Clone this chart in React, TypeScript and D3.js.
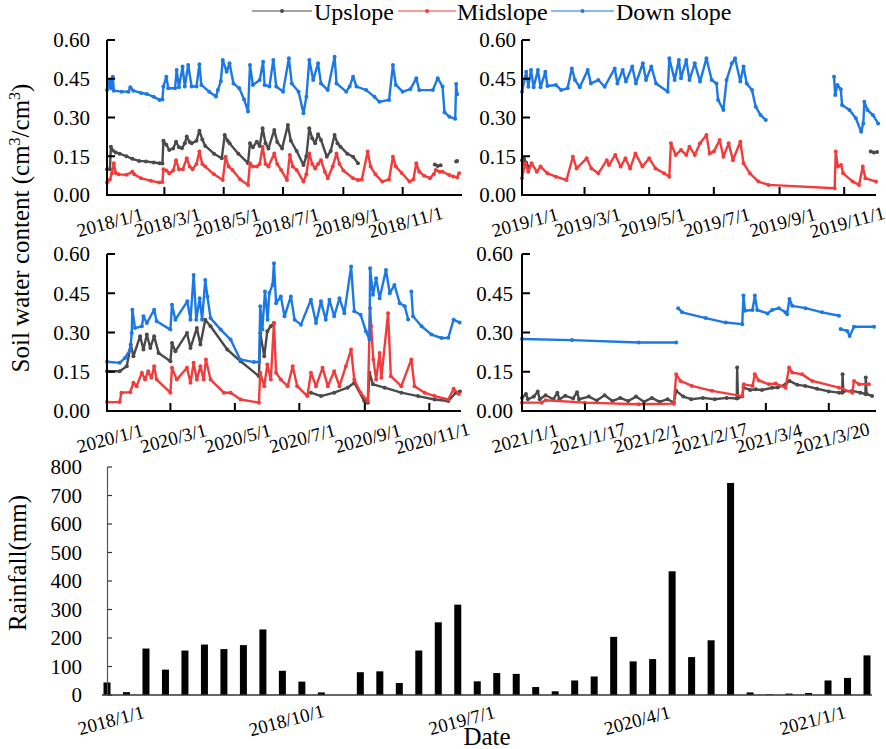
import React from "react";
import * as d3 from "d3";

const FONT = "Liberation Serif";
const GRAY = "#4a4a4a";
const RED = "#f43b3b";
const BLUE = "#1b78e6";

// [days since panel start, soil water content]; null breaks the line
type Pt = [number, number] | null;

const seriesNames = ["Upslope", "Midslope", "Down slope"];
const seriesColors = [GRAY, RED, BLUE];

const up2018: Pt[] = [
  [0, 0.1], [3, 0.1], [4, 0.187], [6, 0.172], [9, 0.165], [13, 0.16], [20, 0.15], [26, 0.14], [33, 0.132],
  [40, 0.13], [48, 0.126], [54, 0.123], [57, 0.122], [58, 0.21], [61, 0.195], [64, 0.174], [68, 0.18],
  [71, 0.206], [74, 0.185], [77, 0.181], [80, 0.2], [82, 0.226], [85, 0.205], [87, 0.2], [92, 0.21],
  [95, 0.249], [98, 0.215], [101, 0.19], [110, 0.16], [118, 0.142], [121, 0.232], [124, 0.21], [126, 0.2],
  [135, 0.16], [145, 0.123], [147, 0.2], [150, 0.185], [154, 0.206], [157, 0.19], [160, 0.258], [163, 0.2],
  [166, 0.18], [172, 0.252], [175, 0.205], [180, 0.18], [186, 0.271], [189, 0.21], [195, 0.17], [202, 0.116],
  [205, 0.15], [208, 0.258], [211, 0.22], [214, 0.2], [217, 0.235], [220, 0.213], [226, 0.148], [230, 0.17],
  [234, 0.232], [237, 0.2], [240, 0.187], [247, 0.16], [253, 0.148], [258, 0.123], null,
  [337, 0.118], [340, 0.112], [343, 0.115], null, [359, 0.13], [360, 0.132],
];
const mid2018: Pt[] = [
  [0, 0.048], [3, 0.06], [5, 0.084], [7, 0.123], [9, 0.085], [12, 0.08], [20, 0.078], [26, 0.09], [28, 0.08],
  [35, 0.065], [45, 0.055], [54, 0.048], [57, 0.05], [58, 0.1], [61, 0.095], [64, 0.084], [68, 0.095],
  [71, 0.135], [74, 0.1], [78, 0.1], [82, 0.142], [85, 0.11], [88, 0.1], [92, 0.12], [95, 0.168], [98, 0.12],
  [101, 0.11], [110, 0.08], [119, 0.058], [122, 0.148], [125, 0.11], [129, 0.097], [137, 0.06], [145, 0.039],
  [147, 0.123], [150, 0.11], [154, 0.11], [157, 0.12], [160, 0.187], [163, 0.12], [166, 0.11], [172, 0.161],
  [175, 0.12], [179, 0.097], [185, 0.058], [188, 0.155], [191, 0.11], [195, 0.097], [202, 0.052], [205, 0.08],
  [208, 0.161], [211, 0.12], [214, 0.103], [217, 0.12], [220, 0.135], [224, 0.09], [227, 0.065], [232, 0.11],
  [236, 0.161], [239, 0.12], [243, 0.095], [253, 0.065], [258, 0.058], [262, 0.06], [268, 0.168], [271, 0.11],
  [276, 0.08], [283, 0.052], [290, 0.06], [294, 0.148], [297, 0.11], [303, 0.085], [311, 0.052], [315, 0.06],
  [318, 0.123], [321, 0.09], [326, 0.075], [332, 0.065], [336, 0.08], [338, 0.097], [342, 0.09], [345, 0.09],
  [352, 0.077], [356, 0.072], [360, 0.068], [362, 0.084],
];
const down2018: Pt[] = [
  [0, 0.406], [3, 0.445], [4, 0.413], [6, 0.458], [7, 0.404], [15, 0.4], [22, 0.4], [24, 0.417], [27, 0.404],
  [35, 0.395], [41, 0.391], [48, 0.38], [54, 0.368], [57, 0.37], [58, 0.42], [61, 0.458], [63, 0.413],
  [70, 0.413], [71.6, 0.484], [74, 0.417], [77.7, 0.497], [80, 0.42], [83.5, 0.503], [87, 0.42], [92, 0.42],
  [95, 0.506], [97, 0.426], [105, 0.4], [112, 0.381], [114, 0.406], [117, 0.44], [119, 0.523], [123, 0.477],
  [126, 0.51], [130, 0.432], [136, 0.413], [141, 0.37], [145, 0.323], [147, 0.503], [150, 0.426], [157, 0.445],
  [160.5, 0.516], [162, 0.426], [167, 0.42], [171, 0.523], [174, 0.42], [181, 0.4], [187, 0.529], [190, 0.432],
  [197, 0.4], [202, 0.316], [205, 0.38], [208, 0.523], [212, 0.445], [217, 0.51], [220, 0.432], [227, 0.406],
  [234, 0.535], [236, 0.432], [246, 0.4], [249.5, 0.42], [253, 0.458], [256.5, 0.42], [266.5, 0.406],
  [275, 0.38], [280, 0.361], [290, 0.368], [294, 0.503], [297, 0.426], [304, 0.4], [312, 0.41], [318, 0.452],
  [321, 0.406], [335, 0.406], [340, 0.452], [345, 0.42], [347, 0.32], [352, 0.303], [358, 0.295], [359, 0.43],
  [360, 0.39],
];

const up2019: Pt[] = [
  [0, 0.135], [1, 0.12], [2, 0.14], [4, 0.125], [6, 0.11], null, [329, 0.168], [332, 0.165], [335, 0.166],
];
const mid2019: Pt[] = [
  [0, 0.065], [3, 0.123], [6, 0.09], [9, 0.123], [14, 0.09], [17.5, 0.11], [24, 0.084], [32, 0.071], [42, 0.058],
  [48, 0.148], [51.5, 0.103], [61, 0.142], [65.5, 0.103], [72, 0.084], [80, 0.135], [82, 0.116], [88, 0.155],
  [93, 0.11], [97.6, 0.142], [102, 0.103], [107, 0.161], [113.6, 0.11], [120, 0.142], [126, 0.103], [134, 0.084],
  [139, 0.071], [140.5, 0.2], [145, 0.155], [150, 0.174], [155, 0.155], [158, 0.187], [163, 0.155], [168, 0.2],
  [174, 0.232], [177, 0.161], [181, 0.168], [186.5, 0.213], [190, 0.148], [195, 0.2], [199, 0.135], [206, 0.206],
  [209, 0.123], [215, 0.084], [223, 0.052], [232.5, 0.039], [295, 0.026], [296, 0.168], [298, 0.11],
  [301, 0.116], [303, 0.084], [312, 0.052], [318, 0.039], [321.5, 0.11], [324, 0.065], [334, 0.052],
];
const down2019: Pt[] = [
  [0, 0.4], [4, 0.477], [6, 0.419], [8.5, 0.484], [11, 0.417], [15, 0.484], [17.5, 0.417], [22, 0.477],
  [24, 0.422], [32, 0.426], [37, 0.406], [43, 0.413], [47, 0.49], [50, 0.445], [54.5, 0.417], [62, 0.484],
  [65, 0.432], [72, 0.445], [78, 0.419], [87.5, 0.49], [90, 0.432], [95, 0.484], [98, 0.439], [104, 0.497],
  [107.5, 0.432], [114, 0.51], [117, 0.445], [122, 0.497], [126.5, 0.432], [137.5, 0.4], [139, 0.529],
  [144, 0.445], [148, 0.523], [150, 0.452], [155, 0.523], [158, 0.445], [163, 0.51], [168, 0.439],
  [174, 0.529], [179, 0.445], [183.5, 0.432], [185, 0.368], [190, 0.329], [193, 0.445], [198, 0.51],
  [201, 0.529], [206, 0.439], [209, 0.497], [212, 0.432], [217, 0.406], [220.5, 0.342], [225, 0.31],
  [230, 0.29], null, [294.4, 0.458], [295.5, 0.387], [297.6, 0.426], [300.8, 0.409], [302, 0.348],
  [309, 0.329], [315, 0.297], [320, 0.245], [322, 0.277], [323, 0.361], [326, 0.329], [331, 0.31], [336, 0.277],
];

const up2020: Pt[] = [
  [0, 0.152], [12, 0.152], [18.7, 0.171], [22.5, 0.254], [25, 0.209], [31.3, 0.286], [34.5, 0.235],
  [37.7, 0.292], [41, 0.241], [44.6, 0.286], [48.8, 0.222], [60, 0.19], [61.5, 0.26], [64.7, 0.228],
  [75.7, 0.298], [79, 0.241], [85, 0.317], [88.4, 0.254], [93, 0.349], [98, 0.324], [113.8, 0.235],
  [126.4, 0.19], [143.8, 0.133], [145, 0.298], [148.8, 0.209], [151.7, 0.305], [155, 0.324], [158, 0.336], null,
  [193, 0.07], [202.5, 0.057], [215, 0.07], [227.7, 0.089], [234, 0.108], [243.5, 0.038], [246.8, 0.032],
  [248.4, 0.146], [251.7, 0.102], [262.7, 0.089], [278.5, 0.07], [294.3, 0.057], [310, 0.044], [323, 0.038],
  [330, 0.07], [334, 0.075],
];
const mid2020: Pt[] = [
  [0, 0.034], [12, 0.034], [13.6, 0.07], [22, 0.072], [25, 0.108], [28, 0.095], [33, 0.146], [36, 0.12],
  [39, 0.152], [42, 0.127], [44.6, 0.171], [47, 0.12], [60, 0.07], [61.5, 0.165], [66, 0.12], [75.7, 0.165],
  [79, 0.108], [82, 0.184], [85, 0.12], [88.4, 0.171], [91.5, 0.12], [93.6, 0.197], [98, 0.12], [110.6, 0.07],
  [117, 0.07], [126.4, 0.044], [143.8, 0.032], [145, 0.146], [148.8, 0.095], [151.7, 0.178], [155, 0.12],
  [158, 0.336], [160, 0.146], [164.5, 0.12], [171, 0.095], [175.7, 0.171], [180, 0.095], [189.6, 0.057],
  [193, 0.146], [197.8, 0.095], [204, 0.165], [209, 0.095], [215, 0.152], [220, 0.095], [226, 0.171],
  [231, 0.235], [234, 0.12], [240, 0.07], [246.8, 0.038], [249, 0.393], [250, 0.324], [252, 0.197],
  [254.7, 0.12], [258, 0.222], [259.6, 0.127], [266, 0.374], [268.6, 0.133], [278.5, 0.095], [288, 0.197],
  [291, 0.095], [300.6, 0.07], [310, 0.057], [323, 0.044], [328, 0.085], [333, 0.065],
];
const down2020: Pt[] = [
  [0, 0.188], [12, 0.184], [17, 0.203], [22, 0.235], [23.4, 0.298], [24, 0.387], [26.5, 0.317], [33, 0.324],
  [34.5, 0.362], [37.7, 0.336], [44.6, 0.387], [47, 0.343], [60, 0.311], [61.5, 0.406], [64.7, 0.349],
  [76, 0.419], [79, 0.349], [82, 0.52], [84.5, 0.349], [87.7, 0.431], [90, 0.349], [93, 0.501], [95, 0.438],
  [98, 0.355], [107.6, 0.311], [117, 0.273], [126, 0.197], [139, 0.187], [144, 0.187], [145, 0.4],
  [147, 0.311], [149.5, 0.457], [152, 0.349], [153.6, 0.451], [156.7, 0.482], [158, 0.565], [160, 0.412],
  [164.5, 0.438], [168, 0.362], [174, 0.438], [177.5, 0.349], [183.5, 0.33], [193, 0.425], [197.8, 0.336],
  [202.5, 0.419], [207, 0.349], [210.5, 0.425], [215, 0.362], [220, 0.431], [224.6, 0.374], [231, 0.552],
  [234, 0.381], [240, 0.368], [245, 0.305], [248.4, 0.273], [249, 0.546], [251.7, 0.444], [254.7, 0.507],
  [258, 0.431], [264, 0.539], [267.6, 0.45], [272, 0.482], [277, 0.412], [281.8, 0.4], [285, 0.35], null,
  [288, 0.457], [289.6, 0.362], [297.7, 0.324], [307, 0.292], [316.6, 0.279], [323, 0.28], [328, 0.349],
  [333.7, 0.338],
];

const up2021: Pt[] = [
  [0, 0.05], [1, 0.065], [1.5, 0.045], [3, 0.055], [4, 0.075], [4.5, 0.045], [6, 0.06], [8, 0.045], [9, 0.07],
  [9.5, 0.045], [11, 0.058], [13, 0.048], [14, 0.072], [14.5, 0.045], [17, 0.055], [19, 0.04], [21, 0.06],
  [23, 0.038], [25, 0.05], [27, 0.038], [29, 0.055], [31, 0.035], [33, 0.05], [35, 0.035], [37, 0.045],
  [38.6, 0.032], [39.2, 0.077], [41, 0.055], [43, 0.045], [46, 0.05], [49, 0.045], [52, 0.05], [54.6, 0.048],
  [54.7, 0.166], [54.9, 0.05], [56, 0.055], [56.3, 0.09], [58, 0.08], [59.4, 0.083], [61, 0.08], [63.6, 0.089],
  [65, 0.09], [67, 0.102], [68, 0.115], [70, 0.1], [72, 0.096], [75, 0.085], [78, 0.075], [80.6, 0.07],
  [81.4, 0.07], [81.5, 0.14], [81.7, 0.075], [84, 0.077], [86, 0.07], [87.3, 0.065], [87.4, 0.128],
  [87.6, 0.065], [89, 0.057],
];
const mid2021: Pt[] = [
  [0, 0.032], [5, 0.032], [6, 0.041], [16, 0.032], [29.7, 0.026], [38.6, 0.028], [39.2, 0.14], [40.3, 0.115],
  [43.2, 0.096], [48.3, 0.077], [56, 0.057], [56.4, 0.102], [58.6, 0.096], [59.2, 0.14], [60.2, 0.117],
  [62.8, 0.102], [64.5, 0.105], [67, 0.089], [67.9, 0.166], [68.7, 0.147], [71.2, 0.14], [73.8, 0.115],
  [80.6, 0.089], [84, 0.07], [84.4, 0.115], [85.7, 0.102], [88.2, 0.102],
];
const down2021: Pt[] = [
  [0, 0.275], [12.7, 0.271], [29.7, 0.262], [39.2, 0.262], null, [39.7, 0.393], [40.7, 0.377], [46.7, 0.355],
  [51.8, 0.338], [56, 0.332], [56.3, 0.441], [56.7, 0.383], [58.6, 0.386], [59.2, 0.441], [59.8, 0.386],
  [62.4, 0.373], [63.6, 0.386], [65.3, 0.393], [67, 0.377], [67.4, 0.37], [68, 0.428], [68.7, 0.402],
  [72.1, 0.393], [76.3, 0.377], [80.6, 0.364], null, [81, 0.313], [82.7, 0.306], [83.3, 0.287], [84.4, 0.322],
  [89.5, 0.322],
];

const ticks2018 = ["2018/1/1", "2018/3/1", "2018/5/1", "2018/7/1", "2018/9/1", "2018/11/1"];
const ticks2019 = ["2019/1/1", "2019/3/1", "2019/5/1", "2019/7/1", "2019/9/1", "2019/11/1"];
const ticks2020 = ["2020/1/1", "2020/3/1", "2020/5/1", "2020/7/1", "2020/9/1", "2020/11/1"];
const ticks2021 = ["2021/1/1", "2021/1/17", "2021/2/1", "2021/2/17", "2021/3/4", "2021/3/20"];
const swcTicks = [0, 0.15, 0.3, 0.45, 0.6];

// monthly rainfall, 2018/1 .. 2021/4
const rainfall = [
  44, 10, 163, 89, 156, 177, 161, 175, 230, 85, 47, 9, 0, 80, 83, 42, 156, 255, 317, 48,
  77, 74, 28, 13, 51, 65, 204, 118, 126, 434, 133, 192, 744, 9, 2, 5, 7, 51, 60, 139,
];
const rainTicks = [0, 100, 200, 300, 400, 500, 600, 700, 800];
const rainDateLabels = ["2018/1/1", "2018/10/1", "2019/7/1", "2020/4/1", "2021/1/1"];

const parse = d3.timeParse("%Y/%m/%d");
const DAY = 864e5;

const panels = [
  { start: "2018/1/1", end: "2019/1/1", left: 107, right: 462, top: 40, bottom: 195, gap: 17, ticks: ticks2018, data: [up2018, mid2018, down2018] },
  { start: "2019/1/1", end: "2019/12/1", left: 522, right: 876, top: 40, bottom: 195, gap: 6, ticks: ticks2019, data: [up2019, mid2019, down2019] },
  { start: "2020/1/1", end: "2020/12/1", left: 107, right: 461, top: 254, bottom: 411, gap: 17, ticks: ticks2020, data: [up2020, mid2020, down2020] },
  { start: "2021/1/1", end: "2021/4/1", left: 522, right: 876, top: 254, bottom: 411, gap: 9, ticks: ticks2021, data: [up2021, mid2021, down2021] },
];

type PanelCfg = (typeof panels)[number];

// every text gets the font explicitly
const T = (props: React.SVGProps<SVGTextElement>) => (
  <text {...props} style={{ fontFamily: FONT }} fill="#000" />
);

const Panel = ({ p }: { p: PanelCfg }) => {
  const start = parse(p.start)!;
  const x = d3.scaleTime().domain([start, parse(p.end)!]).range([p.left, p.right]);
  const y = d3.scaleLinear().domain([0, 0.6]).range([p.bottom, p.top]);
  const px = (d: number) => x(new Date(+start + d * DAY));
  const line = d3
    .line<Pt>()
    .defined((d) => d !== null)
    .x((d) => px(d![0]))
    .y((d) => y(d![1]));

  return (
    <g>
      {p.data.map((s, i) => (
        <g key={i}>
          <path d={line(s) || ""} fill="none" stroke={seriesColors[i]} strokeWidth={2.4} strokeLinejoin="round" />
          {s.filter((d) => d !== null).map((d, j) => (
            <circle key={j} cx={px(d![0])} cy={y(d![1])} r={2} fill={seriesColors[i]} />
          ))}
        </g>
      ))}
      <line x1={p.left} x2={p.right} y1={p.bottom} y2={p.bottom} stroke="#000" strokeWidth={2} />
      <line x1={p.left} x2={p.left} y1={p.bottom + 1} y2={p.top} stroke="#000" strokeWidth={2} />
      {swcTicks.map((t) => (
        <g key={t}>
          <line x1={p.left} x2={p.left + 8} y1={y(t)} y2={y(t)} stroke="#000" strokeWidth={2} />
          <T x={p.left - p.gap} y={y(t)} dy="0.35em" textAnchor="end" fontSize={21}>
            {t.toFixed(2)}
          </T>
        </g>
      ))}
      {p.ticks.map((t) => {
        const tx = x(parse(t)!);
        return (
          <g key={t}>
            <line x1={tx} x2={tx} y1={p.bottom} y2={p.bottom - 8} stroke="#000" strokeWidth={2} />
            <T
              transform={`translate(${tx + 3},${p.bottom + 27}) rotate(-15)`}
              dy="0.35em"
              textAnchor="middle"
              fontSize={19}
            >
              {t}
            </T>
          </g>
        );
      })}
    </g>
  );
};

const months = d3.timeMonth.range(new Date(2018, 0, 1), new Date(2021, 4, 1));
const fmtMonth = d3.timeFormat("%Y/%-m/%-d");
const monthLabels = months.map((m) => fmtMonth(m));

const RainChart = () => {
  const x = d3.scalePoint<string>().domain(monthLabels).range([107, 867]);
  const y = d3.scaleLinear().domain([0, 800]).range([695, 467]);
  const bw = 7;
  return (
    <g>
      {rainfall.map((v, i) => (
        <rect key={i} x={x(monthLabels[i])! - bw / 2} y={y(v)} width={bw} height={y(0) - y(v)} fill="#000" />
      ))}
      <line x1={102} x2={872} y1={y(0)} y2={y(0)} stroke="#333" strokeWidth={1.5} />
      <line x1={107.5} x2={107.5} y1={y(0)} y2={y(800)} stroke="#555" strokeWidth={1.2} />
      {rainTicks.map((t) => (
        <g key={t}>
          <line x1={107.5} x2={112} y1={y(t)} y2={y(t)} stroke="#333" strokeWidth={1.2} />
          <T x={82} y={y(t)} dy="0.35em" textAnchor="end" fontSize={21}>
            {t}
          </T>
        </g>
      ))}
      {rainDateLabels.map((t) => {
        const tx = x(t)!;
        return (
          <T
            key={t}
            transform={`translate(${tx + 4},${y(0) + 25}) rotate(-15)`}
            dy="0.35em"
            textAnchor="middle"
            fontSize={19}
          >
            {t}
          </T>
        );
      })}
      <T x={487} y={745} textAnchor="middle" fontSize={25}>
        Date
      </T>
      <T transform="translate(26,563) rotate(-90)" textAnchor="middle" fontSize={25}>
        Rainfall(mm)
      </T>
    </g>
  );
};

const legendLines = [
  { x1: 252, x2: 312, tx: 314 },
  { x1: 398, x2: 456, tx: 457 },
  { x1: 551, x2: 614, tx: 616 },
];

const App = () => (
  <svg width={886} height={749} style={{ position: "absolute", left: 0, top: 0, background: "#fff" }}>
    {legendLines.map((l, i) => (
      <g key={i}>
        <line x1={l.x1} x2={l.x2} y1={11} y2={11} stroke={seriesColors[i]} strokeWidth={1.2} />
        <circle cx={(l.x1 + l.x2) / 2} cy={11} r={2} fill={seriesColors[i]} />
        <T x={l.tx} y={20} fontSize={24}>
          {seriesNames[i]}
        </T>
      </g>
    ))}
    <T transform="translate(29,228) rotate(-90)" textAnchor="middle" fontSize={25}>
      Soil water content (cm<tspan dy={-9} fontSize={16}>3</tspan>
      <tspan dy={9}>/cm</tspan>
      <tspan dy={-9} fontSize={16}>3</tspan>
      <tspan dy={9}>)</tspan>
    </T>
    {panels.map((p, i) => (
      <Panel key={i} p={p} />
    ))}
    <RainChart />
  </svg>
);

export default App;
